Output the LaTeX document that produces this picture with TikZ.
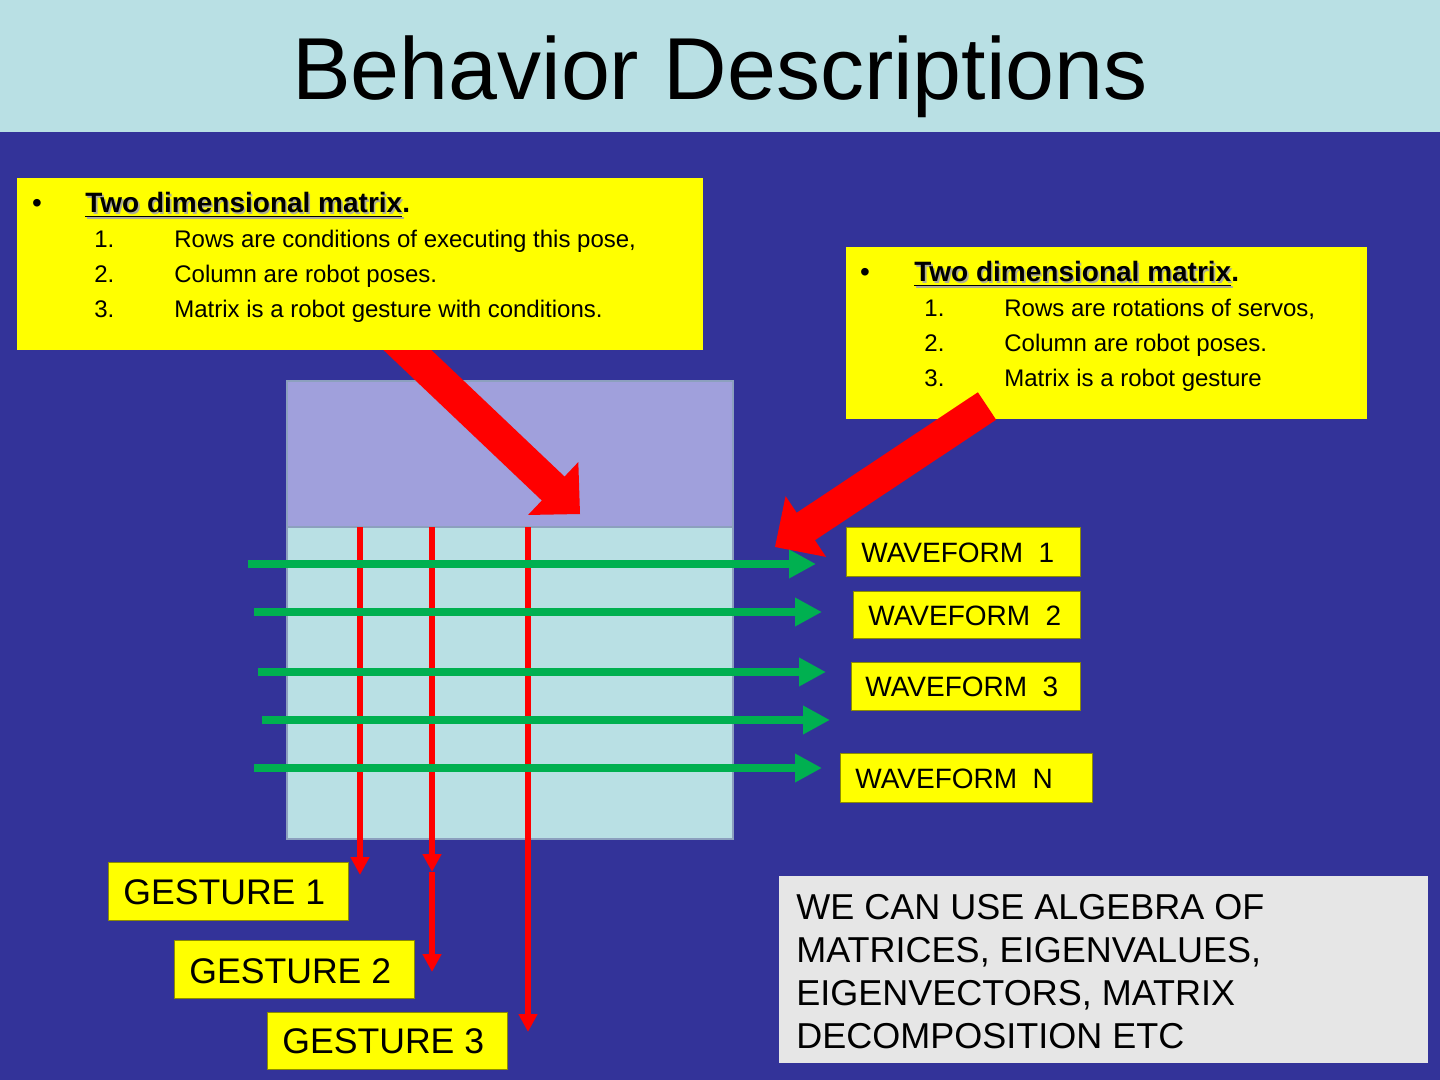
\documentclass[tikz,border=0pt]{standalone}
\usepackage{fontspec}
\setmainfont{Liberation Sans}
\usetikzlibrary{arrows.meta,calc,fit}
\definecolor{bgblue}{RGB}{51,51,153}
\definecolor{band}{RGB}{185,224,228}
\definecolor{mtopc}{RGB}{160,160,220}
\definecolor{mbotc}{RGB}{185,224,228}
\definecolor{mline}{RGB}{140,160,190}
\definecolor{ylw}{RGB}{255,255,0}
\definecolor{bred}{RGB}{255,0,0}
\definecolor{grn}{RGB}{0,176,80}
\definecolor{lgray}{RGB}{230,230,230}
\definecolor{shd}{RGB}{175,175,150}
\newcommand\shtitle[1]{\setbox0=\hbox{#1}%
  \rlap{\kern0.8pt\raisebox{-0.8pt}{\color{shd}\rlap{\rule[-2.2pt]{\wd0}{0.8pt}}#1}}%
  \rlap{\rule[-2.2pt]{\wd0}{0.8pt}}#1}
\newcommand\blockarrow[2]{%
  \coordinate (#2c) at ($(#2)!18.5pt!(#1)$);
  \fill[bred] ($(#1)!8.25pt!90:(#2)$) -- ($(#2c)!8.25pt!90:(#2)$) -- ($(#2c)!18.25pt!90:(#2)$) -- (#2)
     -- ($(#2c)!18.25pt!-90:(#2)$) -- ($(#2c)!8.25pt!-90:(#2)$) -- ($(#1)!8.25pt!-90:(#2)$) -- cycle;}
\begin{document}
\begin{tikzpicture}[x=0.5pt,y=-0.5pt,
  ybox/.style={fill=ylw, inner sep=0pt},
  tbox/.style={fill=ylw, draw=ylw!55!black, line width=0.4pt, inner sep=0pt},
  txt/.style={anchor=base west, inner sep=0pt},
  item/.style={txt, font=\fontsize{12}{14}\selectfont},
  head/.style={txt, font=\fontsize{14}{17}\selectfont},
  bul/.style={anchor=base, inner sep=0pt, font=\fontsize{14}{17}\selectfont},
  wtext/.style={txt, font=\fontsize{14}{16}\selectfont},
  gtext/.style={txt, font=\fontsize{17.8}{21}\selectfont},
  garrow/.style={draw=grn, line width=4.25pt, -{Triangle[length=13.5pt,width=13.5pt]}},
  rarrow/.style={draw=bred, line width=3pt, -{Triangle[length=9pt,width=9pt]}}]
\useasboundingbox (0,0) rectangle (1440,1080);
\fill[bgblue] (0,0) rectangle (1440,1080);
\fill[band] (0,0) rectangle (1440,132);
\node[font=\fontsize{44}{50}\selectfont, anchor=base, inner sep=0pt] (title) at (720,100) {Behavior Descriptions};

% matrix
\node[fit={(287,381) (733,527)}, inner sep=0pt, fill=mtopc, draw=mline, line width=0.75pt] (mtop) {};
\node[fit={(287,527) (733,839)}, inner sep=0pt, fill=mbotc, draw=mline, line width=0.75pt] (mbot) {};

% big arrow A
\coordinate (aS) at (380,324);
\coordinate (aT) at (580,514);
\blockarrow{aS}{aT}

% box 1
\node[ybox, fit={(17,178) (703,350)}] (box1) {};
\node[bul] (bul1) at (37,213) {•};
\node[head] (h1) at (85,213) {\bfseries\shtitle{Two dimensional matrix}.};
\node[item] (i11) at (94,248) {\makebox[40pt][l]{1.}Rows are conditions of executing this pose,};
\node[item] (i12) at (94,283) {\makebox[40pt][l]{2.}Column are robot poses.};
\node[item] (i13) at (94,318) {\makebox[40pt][l]{3.}Matrix is a robot gesture with conditions.};

% box 2
\node[ybox, fit={(846,247) (1367,419)}] (box2) {};
\node[bul] (bul2) at (865,282) {•};
\node[head] (h2) at (914,282) {\bfseries\shtitle{Two dimensional matrix}.};
\node[item] (i21) at (924,317) {\makebox[40pt][l]{1.}Rows are rotations of servos,};
\node[item] (i22) at (924,352) {\makebox[40pt][l]{2.}Column are robot poses.};
\node[item] (i23) at (924,387) {\makebox[40pt][l]{3.}Matrix is a robot gesture};

% big arrow B
\coordinate (bS) at (987,406);
\coordinate (bT) at (775,547);
\blockarrow{bS}{bT}

% red vertical lines
\coordinate (r1s) at (360,527); \coordinate (r1e) at (360,875);
\coordinate (r2s) at (432,527); \coordinate (r2m) at (432,872); \coordinate (r2e) at (432,972);
\coordinate (r3s) at (528,527); \coordinate (r3e) at (528,1032);
\draw[rarrow] (r1s) -- (r1e);
\draw[rarrow] (r2s) -- (r2m);
\draw[rarrow] (r2m) -- (r2e);
\draw[rarrow] (r3s) -- (r3e);

% green arrows
\coordinate (g1s) at (248,564); \coordinate (g1e) at (816,564);
\coordinate (g2s) at (254,612); \coordinate (g2e) at (822,612);
\coordinate (g3s) at (258,672); \coordinate (g3e) at (826,672);
\coordinate (g4s) at (262,720); \coordinate (g4e) at (830,720);
\coordinate (g5s) at (254,768); \coordinate (g5e) at (822,768);
\draw[garrow] (g1s) -- (g1e);
\draw[garrow] (g2s) -- (g2e);
\draw[garrow] (g3s) -- (g3e);
\draw[garrow] (g4s) -- (g4e);
\draw[garrow] (g5s) -- (g5e);

% waveform boxes
\node[tbox, fit={(846,527) (1080,576)}] (w1) {};
\node[wtext] (w1t) at (861,562) {WAVEFORM\ \ 1};
\node[tbox, fit={(853,591) (1080,638)}] (w2) {};
\node[wtext] (w2t) at (868,625) {WAVEFORM\ \ 2};
\node[tbox, fit={(851,662) (1080,710)}] (w3) {};
\node[wtext] (w3t) at (865,696) {WAVEFORM\ \ 3};
\node[tbox, fit={(840,753) (1092,802)}] (wn) {};
\node[wtext] (wnt) at (855,788) {WAVEFORM\ \ N};

% gesture boxes
\node[tbox, fit={(108,862) (348,920)}] (g1) {};
\node[gtext] (g1t) at (123,904) {GESTURE 1};
\node[tbox, fit={(174,940) (414,998)}] (g2) {};
\node[gtext] (g2t) at (189,983) {GESTURE 2};
\node[tbox, fit={(267,1012) (507,1069)}] (g3) {};
\node[gtext] (g3t) at (282,1053) {GESTURE 3};

% algebra box
\node[fit={(779,876) (1428,1063)}, inner sep=0pt, fill=lgray] (alg) {};
\node[txt] (algt) at (796,919) {\parbox[t]{600pt}{\fontsize{18}{21.5}\selectfont
  WE CAN USE ALGEBRA OF\\ MATRICES, EIGENVALUES,\\ EIGENVECTORS, MATRIX\\ DECOMPOSITION ETC}};
\end{tikzpicture}
\end{document}
